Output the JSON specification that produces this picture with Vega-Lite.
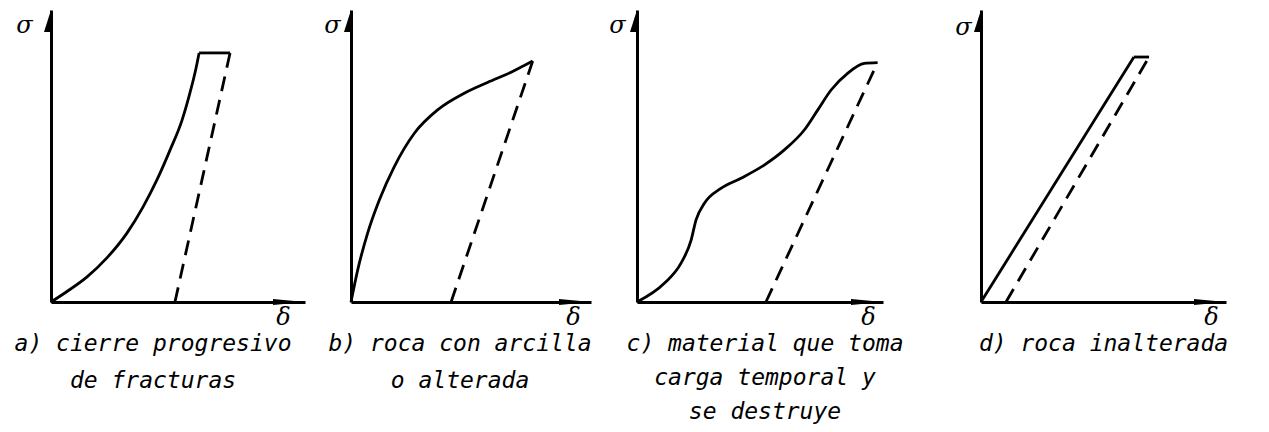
{
  "$schema": "https://vega.github.io/schema/vega-lite/v6.json",
  "background": "white",
  "padding": {"left": 14, "top": 10, "right": 0, "bottom": 0},
  "config": {
    "view": {"stroke": null},
    "axis": {"domainColor": "black", "domainWidth": 3, "ticks": false, "labels": false, "grid": false, "titleFont": "DejaVu Serif", "titleFontStyle": "italic", "titleFontSize": 24, "titleFontWeight": "normal", "titleColor": "black", "titleAlign": "center", "titleBaseline": "alphabetic"},
    "title": {"orient": "bottom", "anchor": "middle", "font": "DejaVu Sans Mono", "fontStyle": "italic", "fontSize": 23, "fontWeight": "normal", "color": "black", "lineHeight": 37, "offset": 4}
  },
  "data": {"values": [
    {"panel": "a", "trazo": "carga", "d": 0, "s": 0},
    {"panel": "a", "trazo": "carga", "d": 0.63, "s": 0.36},
    {"panel": "a", "trazo": "carga", "d": 1.42, "s": 0.86},
    {"panel": "a", "trazo": "carga", "d": 2.2, "s": 1.51},
    {"panel": "a", "trazo": "carga", "d": 2.99, "s": 2.36},
    {"panel": "a", "trazo": "carga", "d": 3.62, "s": 3.25},
    {"panel": "a", "trazo": "carga", "d": 4.17, "s": 4.18},
    {"panel": "a", "trazo": "carga", "d": 4.69, "s": 5.21},
    {"panel": "a", "trazo": "carga", "d": 5.16, "s": 6.23},
    {"panel": "a", "trazo": "carga", "d": 5.47, "s": 7.16},
    {"panel": "a", "trazo": "carga", "d": 5.72, "s": 8.05},
    {"panel": "a", "trazo": "carga", "d": 5.83, "s": 8.53},
    {"panel": "a", "trazo": "meseta", "d": 5.83, "s": 8.53},
    {"panel": "a", "trazo": "meseta", "d": 7.05, "s": 8.53},
    {"panel": "a", "trazo": "descarga", "d": 7.05, "s": 8.53},
    {"panel": "a", "trazo": "descarga", "d": 4.88, "s": 0},
    {"panel": "a", "trazo": "flecha_x", "d": 10, "s": 0},
    {"panel": "a", "trazo": "flecha_y", "d": 0, "s": 10},

    {"panel": "b", "trazo": "carga", "d": 0, "s": 0},
    {"panel": "b", "trazo": "carga", "d": 0.28, "s": 1.1},
    {"panel": "b", "trazo": "carga", "d": 0.69, "s": 2.35},
    {"panel": "b", "trazo": "carga", "d": 1.18, "s": 3.49},
    {"panel": "b", "trazo": "carga", "d": 1.8, "s": 4.63},
    {"panel": "b", "trazo": "carga", "d": 2.64, "s": 5.78},
    {"panel": "b", "trazo": "carga", "d": 3.61, "s": 6.58},
    {"panel": "b", "trazo": "carga", "d": 4.72, "s": 7.15},
    {"panel": "b", "trazo": "carga", "d": 5.69, "s": 7.52},
    {"panel": "b", "trazo": "carga", "d": 6.67, "s": 7.87},
    {"panel": "b", "trazo": "carga", "d": 7.22, "s": 8.1},
    {"panel": "b", "trazo": "carga", "d": 7.57, "s": 8.25},
    {"panel": "b", "trazo": "descarga", "d": 7.57, "s": 8.25},
    {"panel": "b", "trazo": "descarga", "d": 4.17, "s": 0},
    {"panel": "b", "trazo": "flecha_x", "d": 10, "s": 0},
    {"panel": "b", "trazo": "flecha_y", "d": 0, "s": 10},

    {"panel": "c", "trazo": "carga", "d": 0, "s": 0},
    {"panel": "c", "trazo": "carga", "d": 1.11, "s": 0.64},
    {"panel": "c", "trazo": "carga", "d": 1.79, "s": 1.33},
    {"panel": "c", "trazo": "carga", "d": 2.2, "s": 2.12},
    {"panel": "c", "trazo": "carga", "d": 2.4, "s": 2.81},
    {"panel": "c", "trazo": "carga", "d": 2.74, "s": 3.38},
    {"panel": "c", "trazo": "carga", "d": 3.41, "s": 3.89},
    {"panel": "c", "trazo": "carga", "d": 4.23, "s": 4.24},
    {"panel": "c", "trazo": "carga", "d": 5.17, "s": 4.69},
    {"panel": "c", "trazo": "carga", "d": 5.99, "s": 5.21},
    {"panel": "c", "trazo": "carga", "d": 6.8, "s": 5.89},
    {"panel": "c", "trazo": "carga", "d": 7.35, "s": 6.58},
    {"panel": "c", "trazo": "carga", "d": 7.89, "s": 7.26},
    {"panel": "c", "trazo": "carga", "d": 8.56, "s": 7.83},
    {"panel": "c", "trazo": "carga", "d": 9.24, "s": 8.17},
    {"panel": "c", "trazo": "carga", "d": 9.78, "s": 8.2},
    {"panel": "c", "trazo": "descarga", "d": 9.78, "s": 8.2},
    {"panel": "c", "trazo": "descarga", "d": 5.24, "s": 0},
    {"panel": "c", "trazo": "flecha_x", "d": 10, "s": 0},
    {"panel": "c", "trazo": "flecha_y", "d": 0, "s": 10},

    {"panel": "d", "trazo": "carga", "d": 0, "s": 0},
    {"panel": "d", "trazo": "carga", "d": 6.24, "s": 8.39},
    {"panel": "d", "trazo": "meseta", "d": 6.24, "s": 8.39},
    {"panel": "d", "trazo": "meseta", "d": 6.86, "s": 8.39},
    {"panel": "d", "trazo": "descarga", "d": 6.86, "s": 8.39},
    {"panel": "d", "trazo": "descarga", "d": 1.02, "s": 0},
    {"panel": "d", "trazo": "flecha_x", "d": 10, "s": 0},
    {"panel": "d", "trazo": "flecha_y", "d": 0, "s": 10}
  ]},
  "bounds": "flush",
  "spacing": 46,
  "hconcat": [
    {
      "width": 254, "height": 292,
      "title": {"text": ["a) cierre progresivo", "de fracturas"], "dx": -25},
      "transform": [{"filter": {"field": "panel", "equal": "a"}}],
      "encoding": {
        "x": {"field": "d", "type": "quantitative", "scale": {"domain": [0, 10], "nice": false}, "axis": {"title": "δ", "titleX": 232, "titleY": 22}},
        "y": {"field": "s", "type": "quantitative", "scale": {"domain": [0, 10], "nice": false}, "axis": {"title": "σ", "titleX": -27, "titleY": 22, "titleAngle": 0}}
      },
      "layer": [
        {"transform": [{"filter": {"field": "trazo", "equal": "carga"}}], "mark": {"type": "line", "interpolate": "monotone", "color": "black", "strokeWidth": 2.8}},
        {"transform": [{"filter": {"field": "trazo", "equal": "meseta"}}], "mark": {"type": "line", "color": "black", "strokeWidth": 2.8}},
        {"transform": [{"filter": {"field": "trazo", "equal": "descarga"}}], "mark": {"type": "line", "color": "black", "strokeWidth": 2.8, "strokeDash": [15, 9]}},
        {"transform": [{"filter": {"field": "trazo", "equal": "flecha_x"}}], "mark": {"type": "point", "shape": "M -3.2 -0.3 L 0 0 L -3.2 0.3 Z", "size": 400, "filled": true, "color": "black", "opacity": 1}},
        {"transform": [{"filter": {"field": "trazo", "equal": "flecha_y"}}], "mark": {"type": "point", "shape": "M 0 0 L 0.2 2.2 L -0.7 2.2 Z", "size": 400, "filled": true, "color": "black", "opacity": 1}}
      ]
    },
    {
      "width": 240, "height": 292,
      "title": {"text": ["b) roca con arcilla", "o alterada"], "dx": -11},
      "transform": [{"filter": {"field": "panel", "equal": "b"}}],
      "encoding": {
        "x": {"field": "d", "type": "quantitative", "scale": {"domain": [0, 10], "nice": false}, "axis": {"title": "δ", "titleX": 222, "titleY": 22}},
        "y": {"field": "s", "type": "quantitative", "scale": {"domain": [0, 10], "nice": false}, "axis": {"title": "σ", "titleX": -19, "titleY": 22, "titleAngle": 0}}
      },
      "layer": [
        {"transform": [{"filter": {"field": "trazo", "equal": "carga"}}], "mark": {"type": "line", "interpolate": "monotone", "color": "black", "strokeWidth": 2.8}},
        {"transform": [{"filter": {"field": "trazo", "equal": "descarga"}}], "mark": {"type": "line", "color": "black", "strokeWidth": 2.8, "strokeDash": [15, 9]}},
        {"transform": [{"filter": {"field": "trazo", "equal": "flecha_x"}}], "mark": {"type": "point", "shape": "M -3.2 -0.3 L 0 0 L -3.2 0.3 Z", "size": 400, "filled": true, "color": "black", "opacity": 1}},
        {"transform": [{"filter": {"field": "trazo", "equal": "flecha_y"}}], "mark": {"type": "point", "shape": "M 0 0 L 0.2 2.2 L -0.7 2.2 Z", "size": 400, "filled": true, "color": "black", "opacity": 1}}
      ]
    },
    {
      "width": 298, "height": 292,
      "title": {"text": ["c) material que toma", "carga temporal y", "se destruye"], "dx": -21, "lineHeight": 34},
      "transform": [{"filter": {"field": "panel", "equal": "c"}}],
      "encoding": {
        "x": {"field": "d", "type": "quantitative", "scale": {"domain": [0, 10], "nice": false, "range": [0, 246]}, "axis": {"title": "δ", "titleX": 231, "titleY": 22}},
        "y": {"field": "s", "type": "quantitative", "scale": {"domain": [0, 10], "nice": false}, "axis": {"title": "σ", "titleX": -20, "titleY": 22, "titleAngle": 0}}
      },
      "layer": [
        {"transform": [{"filter": {"field": "trazo", "equal": "carga"}}], "mark": {"type": "line", "interpolate": "monotone", "color": "black", "strokeWidth": 2.8}},
        {"transform": [{"filter": {"field": "trazo", "equal": "descarga"}}], "mark": {"type": "line", "color": "black", "strokeWidth": 2.8, "strokeDash": [15, 9]}},
        {"transform": [{"filter": {"field": "trazo", "equal": "flecha_x"}}], "mark": {"type": "point", "shape": "M -3.2 -0.3 L 0 0 L -3.2 0.3 Z", "size": 400, "filled": true, "color": "black", "opacity": 1}},
        {"transform": [{"filter": {"field": "trazo", "equal": "flecha_y"}}], "mark": {"type": "point", "shape": "M 0 0 L 0.2 2.2 L -0.7 2.2 Z", "size": 400, "filled": true, "color": "black", "opacity": 1}}
      ]
    },
    {
      "width": 245, "height": 292,
      "title": {"text": ["d) roca inalterada"], "dx": 0},
      "transform": [{"filter": {"field": "panel", "equal": "d"}}],
      "encoding": {
        "x": {"field": "d", "type": "quantitative", "scale": {"domain": [0, 10], "nice": false}, "axis": {"title": "δ", "titleX": 230, "titleY": 22}},
        "y": {"field": "s", "type": "quantitative", "scale": {"domain": [0, 10], "nice": false}, "axis": {"title": "σ", "titleX": -18, "titleY": 24, "titleAngle": 0}}
      },
      "layer": [
        {"transform": [{"filter": {"field": "trazo", "equal": "carga"}}], "mark": {"type": "line", "color": "black", "strokeWidth": 2.8}},
        {"transform": [{"filter": {"field": "trazo", "equal": "meseta"}}], "mark": {"type": "line", "color": "black", "strokeWidth": 2.8}},
        {"transform": [{"filter": {"field": "trazo", "equal": "descarga"}}], "mark": {"type": "line", "color": "black", "strokeWidth": 2.8, "strokeDash": [15, 9]}},
        {"transform": [{"filter": {"field": "trazo", "equal": "flecha_x"}}], "mark": {"type": "point", "shape": "M -3.2 -0.3 L 0 0 L -3.2 0.3 Z", "size": 400, "filled": true, "color": "black", "opacity": 1}},
        {"transform": [{"filter": {"field": "trazo", "equal": "flecha_y"}}], "mark": {"type": "point", "shape": "M 0 0 L 0.2 2.2 L -0.7 2.2 Z", "size": 400, "filled": true, "color": "black", "opacity": 1}}
      ]
    }
  ]
}
